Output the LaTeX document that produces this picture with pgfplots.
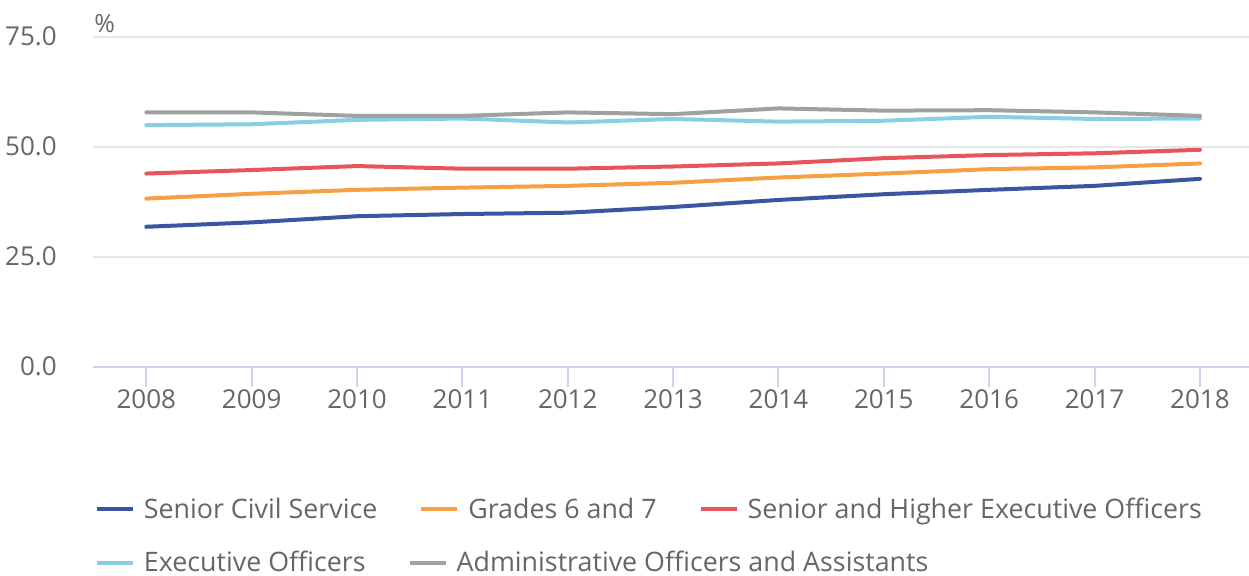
\documentclass[border=0pt]{standalone}
\usepackage{fontspec}
\setmainfont{Open Sans}
\usepackage{pgfplots}
\pgfplotsset{compat=1.18}
\definecolor{cBlue}{HTML}{3A56A0}
\definecolor{cOrange}{HTML}{F7A043}
\definecolor{cRed}{HTML}{E9535A}
\definecolor{cLight}{HTML}{88CFE5}
\definecolor{cGray}{HTML}{A0A0A0}
\definecolor{textgray}{HTML}{666666}
\definecolor{gridgray}{HTML}{E6E6E6}
\definecolor{axisblue}{HTML}{CCD6EB}
\pgfplotstableread{
year scs g67 she eo aoa
2008 31.8 38.2 43.9 54.9 57.8
2009 32.8 39.3 44.7 55.1 57.8
2010 34.2 40.2 45.6 56.1 57.0
2011 34.7 40.7 45.0 56.4 57.0
2012 35.0 41.1 45.0 55.5 57.8
2013 36.3 41.8 45.5 56.3 57.4
2014 37.9 43.0 46.2 55.7 58.7
2015 39.2 43.9 47.4 55.9 58.2
2016 40.2 44.9 48.1 56.8 58.3
2017 41.1 45.3 48.5 56.3 57.8
2018 42.7 46.2 49.3 56.4 57.0
}\datatable
\begin{document}
\begin{tikzpicture}
\pgfplotsset{
  common/.style={width=578pt, height=165pt, scale only axis,
    xmin=2007.494, xmax=2018.465, ymin=0, ymax=75},
  legstyle/.style={
    legend image code/.code={\draw[##1, line width=2pt, line cap=butt] (0pt,0pt) -- (18pt,0pt);},
    legend style={draw=none, fill=none, inner sep=0pt, outer sep=0pt,
      font=\fontsize{13.4}{16}\selectfont, text=textgray,
      nodes={inner sep=0pt},
      /tikz/every odd column/.append style={column sep=4.5pt},
      /tikz/every even column/.append style={column sep=21pt}},
    legend columns=-1},
}
\begin{axis}[common, legstyle,
  clip=false,
  axis x line*=bottom, axis y line*=left,
  y axis line style={draw=none},
  x axis line style={draw=axisblue, line width=1pt, -},
  xtick={2008,2009,...,2018},
  ytick={0,25,50,75},
  ymajorgrids, grid style={draw=gridgray, line width=1pt},
  tick align=outside, major tick length=10pt,
  xtick style={draw=axisblue, line width=1pt},
  ytick style={draw=none},
  tick label style={font=\fontsize{13}{15}\selectfont, text=textgray},
  /pgf/number format/assume math mode=true,
  xticklabel style={/pgf/number format/1000 sep={}, anchor=base, inner sep=0pt, yshift=-11pt},
  yticklabel style={/pgf/number format/.cd, fixed, fixed zerofill, precision=1, /tikz/.cd, anchor=east, inner sep=0pt, xshift=-8pt},
  legend style={at={(axis description cs:0.0017,-0.4327)}, anchor=west},
  every axis plot/.append style={line width=2pt, line join=round, line cap=round},
]
\addplot[cBlue] table[x=year, y=scs] {\datatable};
\addplot[cOrange] table[x=year, y=g67] {\datatable};
\addplot[cRed] table[x=year, y=she] {\datatable};
\addplot[cLight] table[x=year, y=eo] {\datatable};
\addplot[cGray] table[x=year, y=aoa] {\datatable};
\legend{Senior Civil Service, Grades 6 and 7, Senior and Higher Executive Officers}
\node[anchor=base west, inner sep=0pt, text=textgray, font=\fontsize{12.5}{14}\selectfont, xshift=0.5pt, yshift=2.35pt] at (rel axis cs:0,1) {\%};
\coordinate (SW) at (rel axis cs:0,0);
\end{axis}
\begin{axis}[common, legstyle, hide axis,
  legend style={at={(axis description cs:0.0017,-0.594)}, anchor=west}]
\addlegendimage{cLight}
\addlegendimage{cGray}
\legend{Executive Officers, Administrative Officers and Assistants}
\end{axis}
\pgfresetboundingbox
\path[use as bounding box] (SW) ++(-46.5pt,-104.65pt) rectangle ++(624.5pt,288pt);
\end{tikzpicture}
\end{document}
